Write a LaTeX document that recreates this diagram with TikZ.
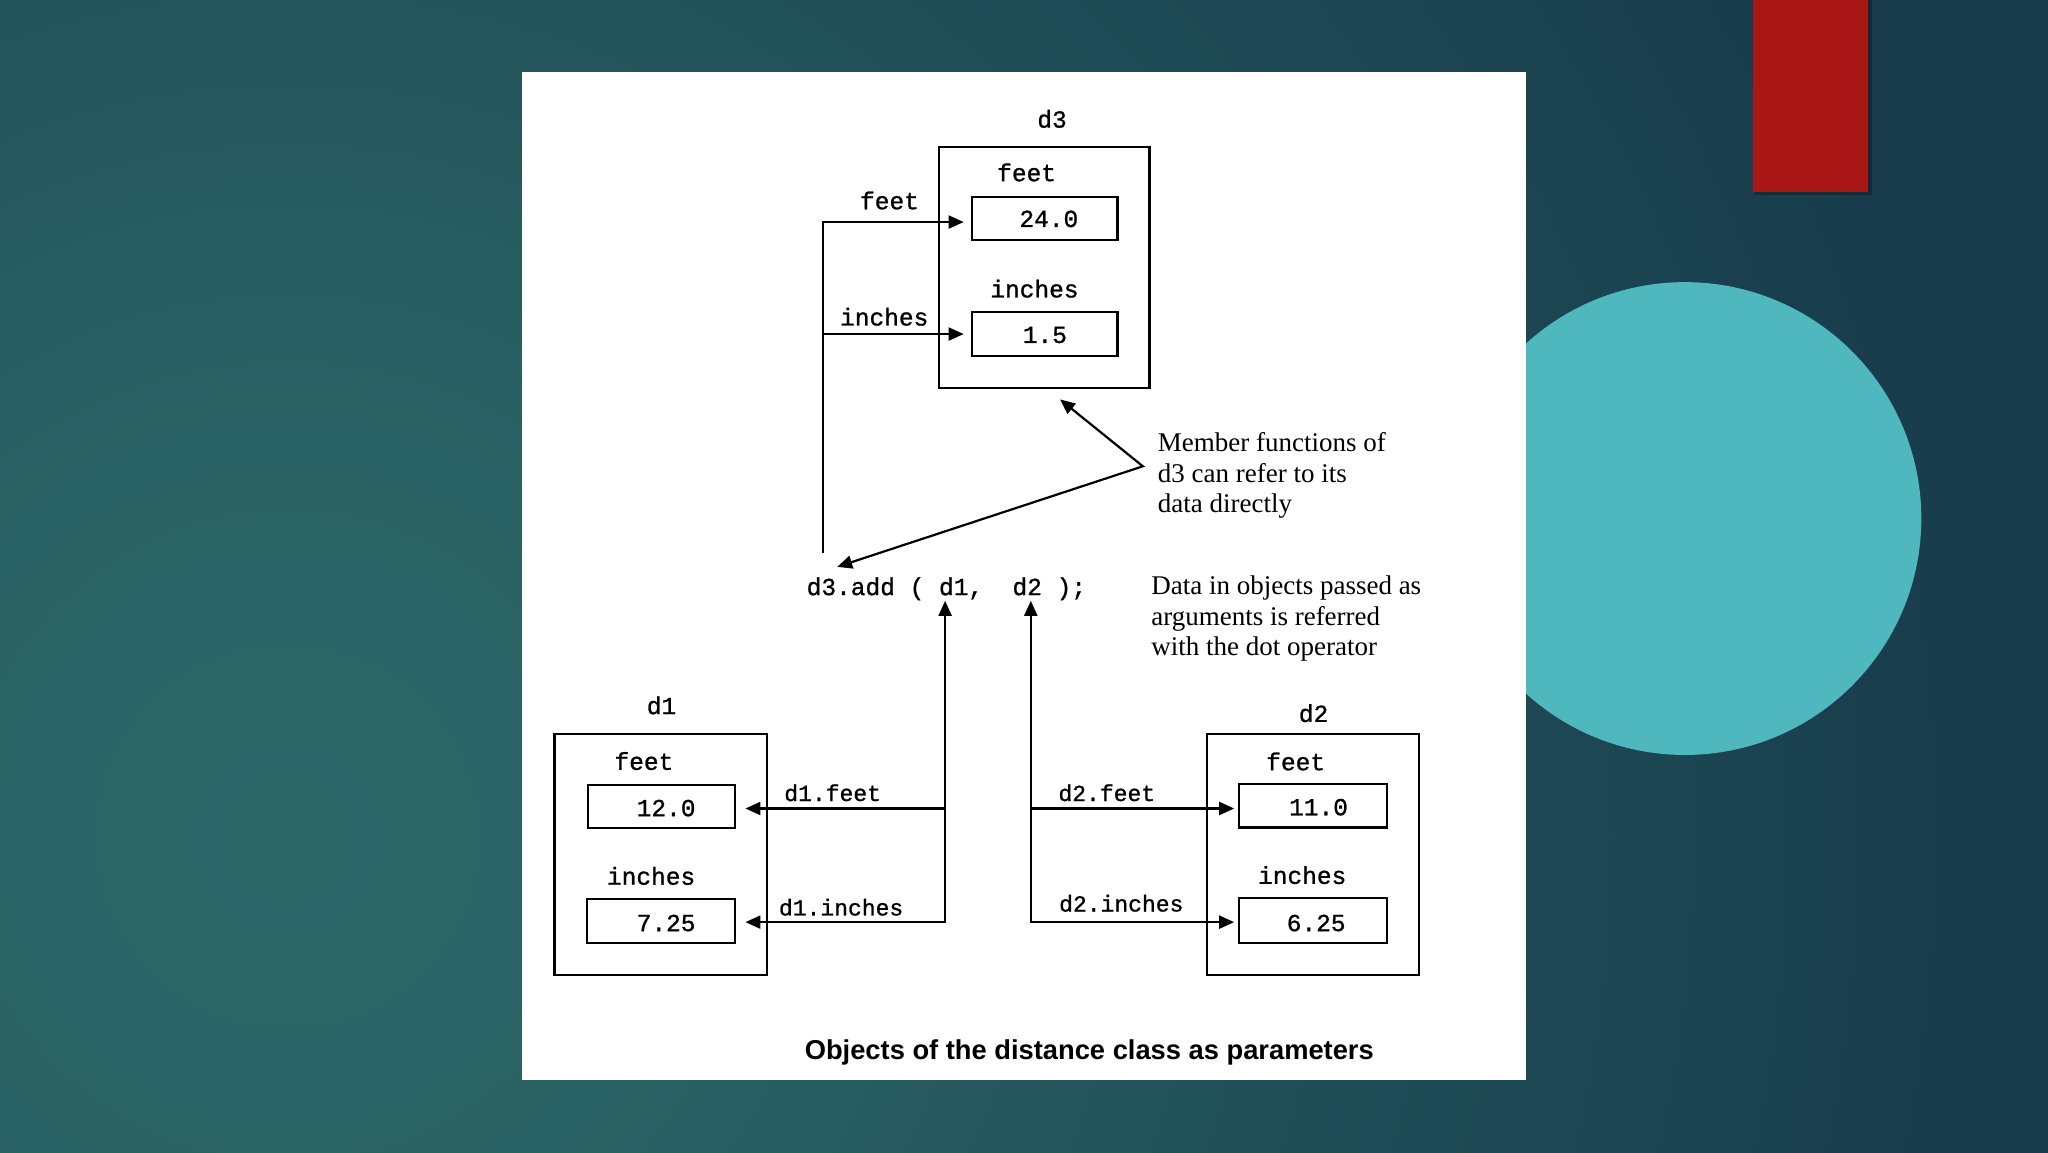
\documentclass[tikz,border=0pt]{standalone}
\usepackage{fontspec}
\setmainfont{Liberation Serif}
\newfontfamily\monof[FakeBold=1]{Liberation Mono}
\newfontfamily\capf{Liberation Sans}
\usetikzlibrary{arrows.meta,fit,calc}
\definecolor{bgdark}{HTML}{183C4C}
\definecolor{bgmid}{HTML}{215159}
\definecolor{bglight}{HTML}{2C6667}
\definecolor{redbar}{HTML}{AA1717}
\definecolor{tealdot}{HTML}{4FB8BF}
\pgfdeclareradialshading{bgglow}{\pgfpoint{0bp}{0bp}}{color(0bp)=(bglight); color(6bp)=(bglight!85!bgmid); color(14bp)=(bgmid); color(25bp)=(bgdark); color(50bp)=(bgdark)}
\begin{document}
\begin{tikzpicture}[x=1.30612pt,y=-1.30612pt,
  mono/.style={font=\monof\fontsize{24.5}{28}\selectfont, inner sep=0pt},
  smallmono/.style={font=\monof\fontsize{23}{27}\selectfont, inner sep=0pt},
  objbox/.style={draw, line width=2.2pt, inner sep=0pt},
  valbox/.style={draw, line width=2.2pt, inner sep=0pt},
  arr/.style={line width=2.2pt, -{Triangle[length=15pt,width=13pt]}},
  dblarr/.style={line width=2.2pt, {Triangle[length=15pt,width=13pt]}-{Triangle[length=15pt,width=13pt]}},
  note/.style={font=\fontsize{27}{30.5}\selectfont, align=left, inner sep=0pt, anchor=north west},
  capstyle/.style={font=\capf\bfseries\fontsize{27.3}{32}\selectfont, inner sep=0pt}
]
\useasboundingbox (0,0) rectangle (1568,882);
% background
\begin{scope}
  \clip (-3,-3) rectangle (1571,885);
  \fill[bgdark] (-3,-3) rectangle (1571,885);
  \shade[shading=bgglow] (220,640) circle (1300);
  \fill[tealdot] (1290,397) circle (181);
  \fill[black, opacity=0.25] (1344,-5) rectangle (1433,149);
  \fill[redbar] (1342,-5) rectangle (1430,147);
\end{scope}
% white panel
\fill[white] (400,55) rectangle (1168,827);

% ---------- d3 ----------
\node[mono] (d3lab) at (805.5,91) {d3};
\node[objbox, fit={(719,112.5) (880,297)}] (d3) {};
\node[mono] (d3ft) at (786,132) {feet};
\node[valbox, fit={(744,151) (855.5,184)}] (d3f) {};
\node[mono] (d3fv) at (803,167.6) {24.0};
\node[mono] (d3it) at (792,221) {inches};
\node[valbox, fit={(744,239) (855.5,272.5)}] (d3i) {};
\node[mono] (d3iv) at (800,256.5) {1.5};

\coordinate (bus) at (629.8,423);
\draw[arr, shorten >=7pt] (bus) |- ($(d3f.west)+(0,2.5)$);
\draw[arr, shorten >=7pt] (bus |- d3i.west) -- (d3i.west);
\node[mono] (lfeet) at (681,153.5) {feet};
\node[mono] (linch) at (677,242.5) {inches};

% ---------- note 1 ----------
\coordinate (tipA) at (811.6,305.8);
\coordinate (elbow) at (875,357);
\coordinate (tipB) at (641,434);
\draw[dblarr] (tipA) -- (elbow) -- (tipB);
\node[note] (note1) at (886.3,331.2) {Member functions of\\d3 can refer to its\\data directly};

% ---------- call ----------
\node[mono, anchor=base west] (call) at (617.5,455.6) {d3.add ( d1,~~d2 );};
\node[note] (note2) at (881.3,441) {Data in objects passed as\\arguments is referred\\with the dot operator};

% ---------- d1 ----------
\node[mono] (d1lab) at (506.5,540) {d1};
\node[objbox, fit={(424.5,562) (587.5,746.5)}] (d1) {};
\node[mono] (d1ft) at (493,582.7) {feet};
\node[valbox, fit={(450,601) (563,634)}] (d1f) {};
\node[mono] (d1fv) at (510,618.7) {12.0};
\node[mono] (d1it) at (498.5,670.6) {inches};
\node[valbox, fit={(449.6,688) (563,722)}] (d1i) {};
\node[mono] (d1iv) at (510,706.7) {7.25};

\coordinate (d1top) at (723.6,460);
\coordinate (d1bot) at (723.6,706);
\coordinate (d1j) at (723.6,619);
\draw[dblarr, shorten >=9pt] (d1top) -- (d1bot) -- (d1bot -| d1i.east);
\draw[arr, shorten >=9pt] (d1j) -- (d1j -| d1f.east);
\node[smallmono] (d1fl) at (637.5,607) {d1.feet};
\node[smallmono] (d1il) at (644,694.6) {d1.inches};

% ---------- d2 ----------
\node[mono] (d2lab) at (1005.7,546) {d2};
\node[objbox, fit={(924,562) (1086.5,746.5)}] (d2) {};
\node[mono] (d2ft) at (992,583) {feet};
\node[valbox, fit={(948.8,600.5) (1062,633.5)}] (d2f) {};
\node[mono] (d2fv) at (1009.5,618) {11.0};
\node[mono] (d2it) at (997,670) {inches};
\node[valbox, fit={(948.8,687.6) (1062,722)}] (d2i) {};
\node[mono] (d2iv) at (1007.7,706.7) {6.25};

\coordinate (d2top) at (789.2,460);
\coordinate (d2bot) at (789.2,706);
\coordinate (d2j) at (789.2,619);
\draw[dblarr, shorten >=4pt] (d2top) -- (d2bot) -- (d2bot -| d2i.west);
\draw[arr, shorten >=4pt] (d2j) -- (d2j -| d2f.west);
\node[smallmono] (d2fl) at (847.4,607) {d2.feet};
\node[smallmono] (d2il) at (858.5,691.6) {d2.inches};

% ---------- caption ----------
\node[capstyle, anchor=base] (caption) at (834,811) {Objects of the distance class as parameters};
\end{tikzpicture}
\end{document}
